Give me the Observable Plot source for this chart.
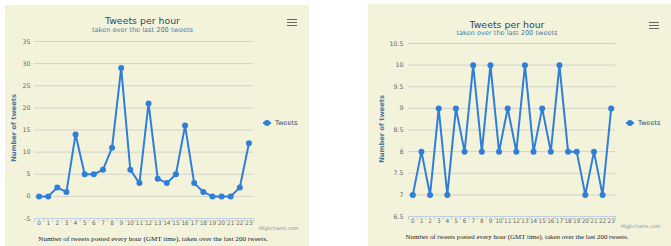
<!DOCTYPE html>
<html><head><meta charset="utf-8">
<script src="https://cdn.jsdelivr.net/npm/d3@7"></script>
<script src="https://cdn.jsdelivr.net/npm/@observablehq/plot@0.6"></script>
<style>
html,body{margin:0;padding:0;background:#fff;}
#page{position:relative;width:671px;height:246px;overflow:hidden;font-family:"DejaVu Sans",Verdana,sans-serif;}
.panel{position:absolute;background:#f3f3dc;}
.t{position:absolute;white-space:nowrap;transform:translate(-50%,-50%);line-height:1;}
.abs{position:absolute;}
.bar{position:absolute;height:1.6px;background:#666;}
</style>
</head><body><div id="page"></div>
<script>
// ---- data ----
const hours = [0,1,2,3,4,5,6,7,8,9,10,11,12,13,14,15,16,17,18,19,20,21,22,23];
const tweetsLeft = [0,0,2,1,14,5,5,6,11,29,6,3,21,4,3,5,16,3,1,0,0,0,2,12];
const tweetsRight = [7,8,7,9,7,9,8,10,8,10,8,9,8,10,8,9,8,10,8,8,7,8,7,9];
const yTicksLeft = [-5,0,5,10,15,20,25,30,35];
const yTicksRight = [6.5,7,7.5,8,8.5,9,9.5,10,10.5];
const titleText = "Tweets per hour";
const subtitleText = "taken over the last 200 tweets";
const yTitle = "Number of tweets";
const seriesName = "Tweets";
const creditText = "Highcharts.com";
const captionText = "Number of tweets posted every hour (GMT time), taken over the last 200 tweets.";

const COLOR = "#2f7ed8";
const page = document.getElementById("page");

function el(cls, css, text){
  const d = document.createElement("div");
  d.className = cls;
  Object.assign(d.style, css);
  if (text != null) d.textContent = text;
  page.appendChild(d);
  return d;
}

function chart(cfg){
  el("panel", {left: cfg.px+"px", top: cfg.py+"px", width: cfg.pw+"px", height: cfg.ph+"px"});
  const data = hours.map((h,i)=>({hour:h, tweets:cfg.values[i]}));
  const bounds = hours.map(h=>h-0.5).concat([hours[hours.length-1]+0.5]);
  const svg = Plot.plot({
    width: cfg.pw, height: cfg.sh,
    marginTop: cfg.mt, marginBottom: cfg.mb, marginLeft: cfg.ml, marginRight: cfg.mr,
    x: {domain: [bounds[0], bounds[bounds.length-1]]},
    y: {domain: [cfg.yTicks[0], cfg.yTicks[cfg.yTicks.length-1]]},
    style: {background: "transparent", fontFamily: "DejaVu Sans", fontSize: "6.3px", color: "#666", overflow: "visible"},
    marks: [
      Plot.ruleY(cfg.yTicks.slice(1), {stroke: "#d2d2c8", strokeWidth: 1}),
      Plot.axisY({ticks: cfg.yTicks, tickSize: 0, tickPadding: cfg.ypad, label: null, tickFormat: d => String(d), fill: "#666"}),
      Plot.ruleY([cfg.yTicks[0]], {stroke: "#c0d0e0", strokeWidth: 1}),
      Plot.axisX({ticks: bounds, tickSize: 4, tickFormat: () => "", label: null, stroke: "#c0d0e0", strokeOpacity: 1}),
      Plot.axisX({ticks: hours, tickSize: 0, tickPadding: 2.5, label: null, tickFormat: d => String(d), fill: "#666",
        fontFamily: "'DejaVu Sans Condensed','DejaVu Sans',sans-serif", fontSize: 6.3}),
      Plot.line(data, {x: "hour", y: "tweets", stroke: COLOR, strokeWidth: 2}),
      Plot.dot(data, {x: "hour", y: "tweets", fill: COLOR, r: 3})
    ]
  });
  svg.style.position = "absolute";
  svg.style.left = cfg.px + "px";
  svg.style.top = cfg.sy + "px";
  page.appendChild(svg);

  el("t", {left: cfg.tx+"px", top: cfg.ty+"px", fontSize: "9.4px", color: "#274b6d"}, titleText);
  el("t", {left: cfg.tx+"px", top: (cfg.ty+8.8)+"px", fontSize: "6.6px", color: "#4d759e"}, subtitleText);
  el("t", {left: cfg.atx+"px", top: cfg.aty+"px", fontSize: "6.7px", color: "#4d759e", fontWeight: "bold", transform: "translate(-50%,-50%) rotate(-90deg)"}, yTitle);
  // legend
  el("abs", {left: cfg.lx+"px", top: (cfg.ly-1)+"px", width: "8px", height: "2px", background: COLOR});
  el("abs", {left: (cfg.lx+1)+"px", top: (cfg.ly-3)+"px", width: "6px", height: "6px", borderRadius: "3px", background: COLOR});
  el("abs", {left: (cfg.lx+12)+"px", top: (cfg.ly-4)+"px", fontSize: "6.6px", color: "#274b6d", lineHeight: "8px", whiteSpace: "nowrap"}, seriesName);
  // menu icon
  for (let k=0;k<3;k++) el("bar", {left: cfg.mx+"px", top: (cfg.my+k*3)+"px", width: "10px"});
  // credit
  el("abs", {left: cfg.cx+"px", top: (cfg.cy-3)+"px", fontSize: "5px", color: "#909090", lineHeight: "6px", whiteSpace: "nowrap"}, creditText);
  // caption
  el("t", {left: cfg.capx+"px", top: cfg.capy+"px", fontSize: cfg.capsize+"px", color: "#1a1a1a", fontFamily: "'Liberation Serif','Times New Roman',serif"}, captionText);
}

chart({values: tweetsLeft, yTicks: yTicksLeft,
  px: 5, py: 5, pw: 304, ph: 241,
  sy: 35, sh: 195, mt: 6, mb: 12, ml: 29, mr: 56, ypad: 4,
  tx: 142.5, ty: 21, atx: 14, aty: 128,
  lx: 263, ly: 123, mx: 287, my: 18.5, cx: 259, cy: 228,
  capx: 153, capy: 240, capsize: 7.1});

chart({values: tweetsRight, yTicks: yTicksRight,
  px: 368, py: 4, pw: 303, ph: 242,
  sy: 34, sh: 196, mt: 9, mb: 14, ml: 40, mr: 56, ypad: 5,
  tx: 507, ty: 24.5, atx: 382, aty: 129,
  lx: 626, ly: 123, mx: 649, my: 21.5, cx: 621, cy: 226,
  capx: 517, capy: 237, capsize: 6.9});
</script>
</body></html>
